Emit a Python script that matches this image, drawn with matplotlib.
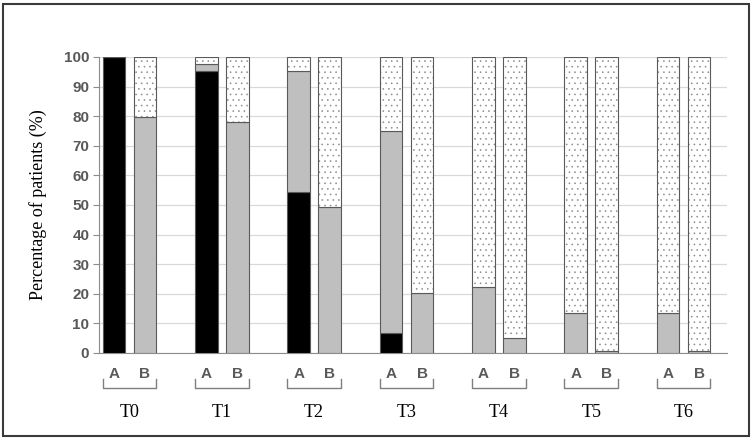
import matplotlib.pyplot as plt
import numpy as np
from matplotlib.patches import Rectangle

plt.rcParams['font.family'] = ['Liberation Sans', 'DejaVu Sans']
plt.rcParams['hatch.linewidth'] = 0.4

groups = ['T0', 'T1', 'T2', 'T3', 'T4', 'T5', 'T6']
sub_labels = ['A', 'B']

# percentage of patients, stacked black / grey / dotted
a_black = [100, 95.4, 54.5, 6.6, 0, 0, 0]
a_grey = [0, 2.4, 40.8, 68.5, 22.4, 13.6, 13.6]
a_dot = [0, 2.2, 4.7, 24.9, 77.6, 86.4, 86.4]
b_black = [0, 0, 0, 0, 0, 0, 0]
b_grey = [79.6, 77.9, 49.2, 20.2, 5.0, 0.7, 0.7]
b_dot = [20.4, 22.1, 50.8, 79.8, 95.0, 99.3, 99.3]

edge = '#5a5a5a'
tick_grey = '#595959'
serif = ['Liberation Serif', 'DejaVu Serif']

fig = plt.figure(figsize=(7.53, 4.42), dpi=100)
ax = fig.add_axes([99 / 753, 89 / 442, 628 / 753, 296 / 442])

x = np.arange(len(groups))
off = 0.168
w = 0.245


def stack(pos, black, grey, dot):
    black = np.array(black)
    grey = np.array(grey)
    ax.bar(pos, black, w, color='black', edgecolor=edge, linewidth=0.8, zorder=3)
    ax.bar(pos, grey, w, bottom=black, color='#bfbfbf', edgecolor=edge,
           linewidth=0.8, zorder=3)
    ax.bar(pos, dot, w, bottom=black + grey, color='white', edgecolor='#8a8a8a',
           hatch='...', linewidth=0, zorder=3)
    ax.bar(pos, dot, w, bottom=black + grey, fill=False, edgecolor=edge,
           linewidth=0.8, zorder=4)


stack(x - off, a_black, a_grey, a_dot)
stack(x + off, b_black, b_grey, b_dot)

ax.set_xlim(-0.33, 6.47)
ax.set_ylim(0, 100)
ax.set_yticks(range(0, 101, 10))
ax.yaxis.grid(True, color='#d9d9d9', linewidth=0.9, zorder=0)
ax.set_axisbelow(True)

for s in ['top', 'right']:
    ax.spines[s].set_visible(False)
ax.spines['left'].set_color('#8c8c8c')
ax.spines['bottom'].set_color('#8c8c8c')
ax.tick_params(axis='y', direction='out', length=4, color='#8c8c8c',
               labelcolor=tick_grey, labelsize=11, pad=3)
ax.set_yticklabels([str(v) for v in range(0, 101, 10)], fontweight='bold')

ticks = np.sort(np.concatenate([x - off, x + off]))
ax.set_xticks(ticks)
ax.set_xticklabels(sub_labels * len(groups), fontweight='bold',
                   fontsize=11, color=tick_grey)
ax.tick_params(axis='x', length=0, pad=10)

ax.set_ylabel('Percentage of patients (%)', family=serif,
              fontsize=13, labelpad=12)

tr = ax.get_xaxis_transform()
for i, g in enumerate(groups):
    x0 = i - off - w / 2
    x1 = i + off + w / 2
    ax.plot([x0, x0, x1, x1], [-0.088, -0.118, -0.118, -0.088], transform=tr,
            color='#7f7f7f', linewidth=1, clip_on=False)
    ax.text(i, -0.2, g, transform=tr, ha='center', va='center',
            family=serif, fontsize=13)

fig.patches.append(Rectangle((3 / 753, 6 / 442), 746 / 753, 432 / 442,
                             transform=fig.transFigure, fill=False,
                             edgecolor='#3a3a3a', linewidth=1.5))

fig.savefig('out.png', dpi=100)
